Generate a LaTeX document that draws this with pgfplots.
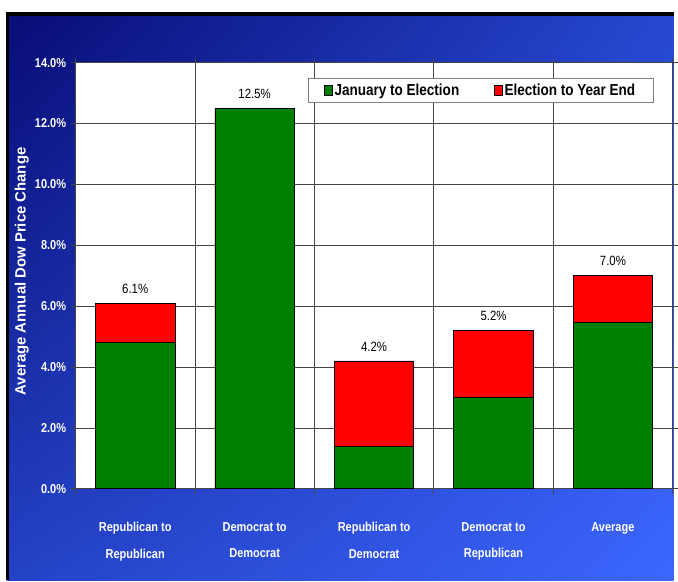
\documentclass[border=0pt]{standalone}
\usepackage{fontspec}
\setmainfont{Liberation Sans}
\newfontfamily\narrowfont{Liberation Sans}[FakeStretch=0.85]
\usepackage{pgfplots}
\pgfplotsset{compat=1.18}
\usetikzlibrary{shadings}
\definecolor{bgTL}{RGB}{8,12,118}
\definecolor{bgTR}{RGB}{38,72,208}
\definecolor{bgBL}{RGB}{36,66,196}
\definecolor{bgBR}{RGB}{60,102,255}
\definecolor{barG}{RGB}{0,128,0}
\definecolor{barR}{RGB}{255,0,0}
\definecolor{gridc}{RGB}{70,70,70}
\pgfplotstableread{
x green red total
0 4.8 1.3 6.1
1 12.5 0.0 12.5
2 1.4 2.8 4.2
3 3.0 2.2 5.2
4 5.45 1.55 7.0
}\datatable
\begin{document}
\begin{tikzpicture}[x=1pt,y=1pt]
\fill[white] (0,0) rectangle (678,584);
\shade[upper left=bgTL, upper right=bgTR, lower left=bgBL, lower right=bgBR] (7,0) rectangle (678,569);
\draw[black, line width=3.5pt] (7.5,0) -- (7.5,569.75) -- (678,569.75);
\begin{axis}[
  at={(76pt,92pt)}, anchor=south west,
  scale only axis, width=601pt, height=429pt,
  ybar, bar width=80pt, bar shift=0pt,
  xmin=-0.5, xmax=4.5, ymin=0, ymax=14,
  xtick={-0.5,0.5,1.5,2.5,3.5,4.5},
  x tick label as interval,
  xticklabels={{Republican to\\Republican},{Democrat to\\Democrat},{Republican to\\Democrat},{Democrat to\\Republican},{Average}},
  ytick={0,2,...,14},
  yticklabel={\pgfmathprintnumber[fixed,fixed zerofill,precision=1]{\tick}\%},
  /pgf/number format/assume math mode=true,
  xmajorgrids, ymajorgrids,
  major grid style={gridc, line width=0.8pt},
  tick align=outside, major tick length=5pt,
  tick style={gridc, line width=0.8pt},
  axis line style={gridc, line width=0.8pt},
  axis background/.style={fill=white},
  yticklabel style={text=white, font=\narrowfont\bfseries\fontsize{13}{15}\selectfont, xshift=-1pt},
  xticklabel style={text=white, align=center, font=\narrowfont\bfseries\fontsize{13}{27}\selectfont, yshift=-25pt},
  ylabel={Average Annual Dow Price Change},
  ylabel style={at={(axis description cs:-0.09,0.51)}, anchor=center, text=white, font=\bfseries\fontsize{15}{17}\selectfont},
  legend style={at={(0.389,0.963)}, anchor=north west, legend columns=2, draw=gray, line width=0.8pt, fill=white,
    font=\narrowfont\bfseries\fontsize{16}{18}\selectfont, inner xsep=16pt, inner ysep=3.5pt,
    /tikz/every even column/.append style={column sep=33pt}},
  legend image code/.code={\draw[#1, draw=black, line width=0.6pt] (0pt,-5pt) rectangle (8pt,5pt);},
  nodes near coords style={font=\narrowfont\fontsize{13.5}{15}\selectfont, text=black, anchor=south, yshift=6pt},
]
% total change (the red part shows above the green part)
\addplot[fill=barR, draw=black, line width=0.8pt, forget plot,
  nodes near coords={\pgfmathprintnumber[fixed,fixed zerofill,precision=1]{\pgfplotspointmeta}\%},
  point meta=explicit]
  table[x=x, y=total, meta=total] {\datatable};
% January to election part
\addplot[fill=barG, draw=black, line width=0.8pt, forget plot] table[x=x, y=green] {\datatable};
\addlegendimage{fill=barG}
\addlegendentry{January to Election}
\addlegendimage{fill=barR}
\addlegendentry{Election to Year End}
\end{axis}
\end{tikzpicture}
\end{document}
